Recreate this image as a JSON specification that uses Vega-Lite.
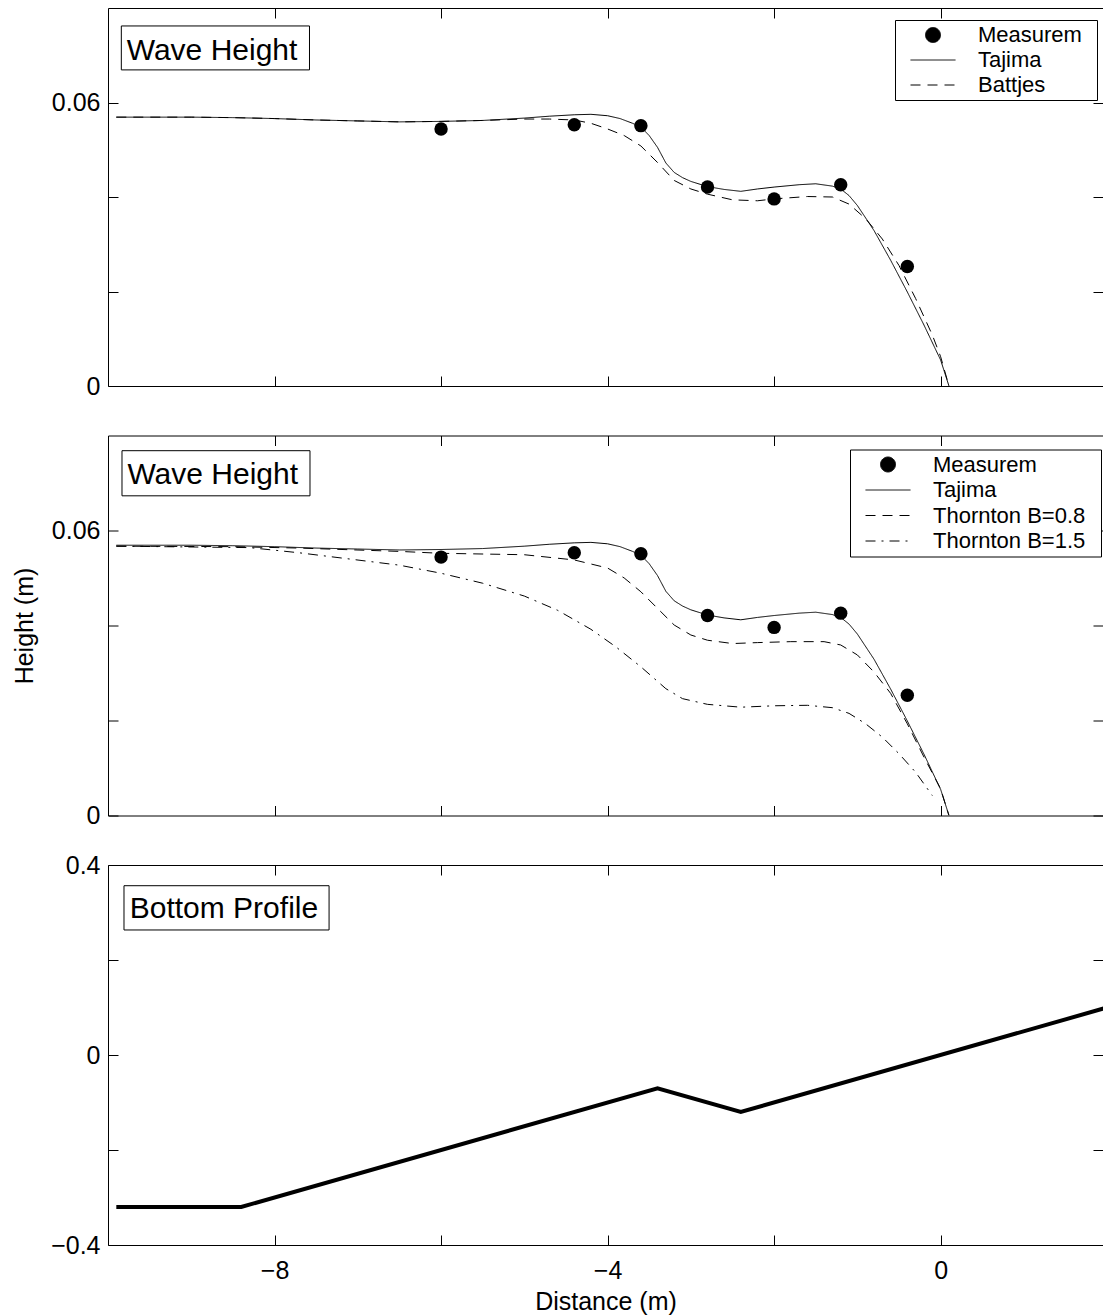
{
  "$schema": "https://vega.github.io/schema/vega-lite/v6.json",
  "padding": {"left": 11, "top": 7, "right": 0, "bottom": 0},
  "bounds": "flush",
  "background": "white",
  "config": {
    "view": {"stroke": "black", "strokeWidth": 1},
    "font": "Liberation Sans",
    "axis": {"domain": false, "grid": false, "tickColor": "black", "tickSize": -10, "tickWidth": 1, "labelFont": "Liberation Sans", "labelFontSize": 25, "labelColor": "black", "labelFlush": false, "labelOverlap": false, "titleFont": "Liberation Sans", "titleFontSize": 25, "titleColor": "black", "titleFontWeight": "normal"},
    "axisBottom": {"labelPadding": 23},
    "axisLeft": {"labelPadding": 18}
  },
  "datasets": {
    "meas": [
      {"x": -6.0, "h": 0.0544, "series": "Measurem"},
      {"x": -4.4, "h": 0.0553, "series": "Measurem"},
      {"x": -3.6, "h": 0.0551, "series": "Measurem"},
      {"x": -2.8, "h": 0.0421, "series": "Measurem"},
      {"x": -2.0, "h": 0.0396, "series": "Measurem"},
      {"x": -1.2, "h": 0.0426, "series": "Measurem"},
      {"x": -0.4, "h": 0.0253, "series": "Measurem"}
    ],
    "top": [
      {"x": -9.9, "h": 0.0569, "series": "Tajima"}, {"x": -9.0, "h": 0.0569, "series": "Tajima"}, {"x": -8.5, "h": 0.0568, "series": "Tajima"}, {"x": -8.0, "h": 0.0566, "series": "Tajima"}, {"x": -7.5, "h": 0.0563, "series": "Tajima"}, {"x": -7.0, "h": 0.0561, "series": "Tajima"}, {"x": -6.5, "h": 0.0559, "series": "Tajima"}, {"x": -6.0, "h": 0.056, "series": "Tajima"}, {"x": -5.5, "h": 0.0562, "series": "Tajima"}, {"x": -5.0, "h": 0.0567, "series": "Tajima"}, {"x": -4.7, "h": 0.0571, "series": "Tajima"}, {"x": -4.4, "h": 0.0574, "series": "Tajima"}, {"x": -4.2, "h": 0.0575, "series": "Tajima"}, {"x": -4.0, "h": 0.0572, "series": "Tajima"}, {"x": -3.85, "h": 0.0566, "series": "Tajima"}, {"x": -3.7, "h": 0.0556, "series": "Tajima"}, {"x": -3.6, "h": 0.0548, "series": "Tajima"}, {"x": -3.5, "h": 0.053, "series": "Tajima"}, {"x": -3.4, "h": 0.0505, "series": "Tajima"}, {"x": -3.3, "h": 0.0472, "series": "Tajima"}, {"x": -3.2, "h": 0.0452, "series": "Tajima"}, {"x": -3.1, "h": 0.0441, "series": "Tajima"}, {"x": -3.0, "h": 0.0433, "series": "Tajima"}, {"x": -2.8, "h": 0.0422, "series": "Tajima"}, {"x": -2.6, "h": 0.0416, "series": "Tajima"}, {"x": -2.4, "h": 0.0412, "series": "Tajima"}, {"x": -2.2, "h": 0.0417, "series": "Tajima"}, {"x": -2.0, "h": 0.0421, "series": "Tajima"}, {"x": -1.7, "h": 0.0426, "series": "Tajima"}, {"x": -1.5, "h": 0.0428, "series": "Tajima"}, {"x": -1.3, "h": 0.0423, "series": "Tajima"}, {"x": -1.2, "h": 0.0417, "series": "Tajima"}, {"x": -1.1, "h": 0.0403, "series": "Tajima"}, {"x": -1.0, "h": 0.0382, "series": "Tajima"}, {"x": -0.8, "h": 0.0329, "series": "Tajima"}, {"x": -0.6, "h": 0.0266, "series": "Tajima"}, {"x": -0.4, "h": 0.0199, "series": "Tajima"}, {"x": -0.2, "h": 0.0129, "series": "Tajima"}, {"x": 0.0, "h": 0.0055, "series": "Tajima"}, {"x": 0.1, "h": 0.0, "series": "Tajima"},
      {"x": -9.9, "h": 0.0569, "series": "Battjes"}, {"x": -9.0, "h": 0.0569, "series": "Battjes"}, {"x": -8.5, "h": 0.0568, "series": "Battjes"}, {"x": -8.0, "h": 0.0566, "series": "Battjes"}, {"x": -7.5, "h": 0.0563, "series": "Battjes"}, {"x": -7.0, "h": 0.0561, "series": "Battjes"}, {"x": -6.5, "h": 0.0559, "series": "Battjes"}, {"x": -6.0, "h": 0.056, "series": "Battjes"}, {"x": -5.5, "h": 0.0562, "series": "Battjes"}, {"x": -5.0, "h": 0.0565, "series": "Battjes"}, {"x": -4.7, "h": 0.0565, "series": "Battjes"}, {"x": -4.4, "h": 0.0563, "series": "Battjes"}, {"x": -4.2, "h": 0.0556, "series": "Battjes"}, {"x": -4.0, "h": 0.0544, "series": "Battjes"}, {"x": -3.8, "h": 0.053, "series": "Battjes"}, {"x": -3.6, "h": 0.0508, "series": "Battjes"}, {"x": -3.4, "h": 0.0473, "series": "Battjes"}, {"x": -3.2, "h": 0.0435, "series": "Battjes"}, {"x": -3.0, "h": 0.0417, "series": "Battjes"}, {"x": -2.8, "h": 0.0406, "series": "Battjes"}, {"x": -2.5, "h": 0.0394, "series": "Battjes"}, {"x": -2.2, "h": 0.0392, "series": "Battjes"}, {"x": -2.0, "h": 0.0396, "series": "Battjes"}, {"x": -1.6, "h": 0.0401, "series": "Battjes"}, {"x": -1.3, "h": 0.04, "series": "Battjes"}, {"x": -1.1, "h": 0.0385, "series": "Battjes"}, {"x": -0.9, "h": 0.0354, "series": "Battjes"}, {"x": -0.7, "h": 0.0311, "series": "Battjes"}, {"x": -0.5, "h": 0.0255, "series": "Battjes"}, {"x": -0.3, "h": 0.0185, "series": "Battjes"}, {"x": -0.1, "h": 0.0108, "series": "Battjes"}, {"x": 0.0, "h": 0.0062, "series": "Battjes"}, {"x": 0.1, "h": 0.0, "series": "Battjes"}
    ],
    "mid": [
      {"x": -9.9, "h": 0.0569, "series": "Tajima"}, {"x": -9.0, "h": 0.0569, "series": "Tajima"}, {"x": -8.5, "h": 0.0568, "series": "Tajima"}, {"x": -8.0, "h": 0.0566, "series": "Tajima"}, {"x": -7.5, "h": 0.0563, "series": "Tajima"}, {"x": -7.0, "h": 0.0561, "series": "Tajima"}, {"x": -6.5, "h": 0.0559, "series": "Tajima"}, {"x": -6.0, "h": 0.056, "series": "Tajima"}, {"x": -5.5, "h": 0.0562, "series": "Tajima"}, {"x": -5.0, "h": 0.0567, "series": "Tajima"}, {"x": -4.7, "h": 0.0571, "series": "Tajima"}, {"x": -4.4, "h": 0.0574, "series": "Tajima"}, {"x": -4.2, "h": 0.0575, "series": "Tajima"}, {"x": -4.0, "h": 0.0572, "series": "Tajima"}, {"x": -3.85, "h": 0.0566, "series": "Tajima"}, {"x": -3.7, "h": 0.0556, "series": "Tajima"}, {"x": -3.6, "h": 0.0548, "series": "Tajima"}, {"x": -3.5, "h": 0.053, "series": "Tajima"}, {"x": -3.4, "h": 0.0505, "series": "Tajima"}, {"x": -3.3, "h": 0.0472, "series": "Tajima"}, {"x": -3.2, "h": 0.0452, "series": "Tajima"}, {"x": -3.1, "h": 0.0441, "series": "Tajima"}, {"x": -3.0, "h": 0.0433, "series": "Tajima"}, {"x": -2.8, "h": 0.0422, "series": "Tajima"}, {"x": -2.6, "h": 0.0416, "series": "Tajima"}, {"x": -2.4, "h": 0.0412, "series": "Tajima"}, {"x": -2.2, "h": 0.0417, "series": "Tajima"}, {"x": -2.0, "h": 0.0421, "series": "Tajima"}, {"x": -1.7, "h": 0.0426, "series": "Tajima"}, {"x": -1.5, "h": 0.0428, "series": "Tajima"}, {"x": -1.3, "h": 0.0423, "series": "Tajima"}, {"x": -1.2, "h": 0.0417, "series": "Tajima"}, {"x": -1.1, "h": 0.0403, "series": "Tajima"}, {"x": -1.0, "h": 0.0382, "series": "Tajima"}, {"x": -0.8, "h": 0.0329, "series": "Tajima"}, {"x": -0.6, "h": 0.0266, "series": "Tajima"}, {"x": -0.4, "h": 0.0199, "series": "Tajima"}, {"x": -0.2, "h": 0.0129, "series": "Tajima"}, {"x": 0.0, "h": 0.0055, "series": "Tajima"}, {"x": 0.1, "h": 0.0, "series": "Tajima"},
      {"x": -9.9, "h": 0.0567, "series": "Thornton B=0.8"}, {"x": -8.5, "h": 0.0566, "series": "Thornton B=0.8"}, {"x": -7.7, "h": 0.0563, "series": "Thornton B=0.8"}, {"x": -6.5, "h": 0.0556, "series": "Thornton B=0.8"}, {"x": -6.0, "h": 0.0552, "series": "Thornton B=0.8"}, {"x": -5.0, "h": 0.0549, "series": "Thornton B=0.8"}, {"x": -4.4, "h": 0.0538, "series": "Thornton B=0.8"}, {"x": -4.0, "h": 0.0521, "series": "Thornton B=0.8"}, {"x": -3.8, "h": 0.05, "series": "Thornton B=0.8"}, {"x": -3.6, "h": 0.0471, "series": "Thornton B=0.8"}, {"x": -3.4, "h": 0.0436, "series": "Thornton B=0.8"}, {"x": -3.2, "h": 0.0401, "series": "Thornton B=0.8"}, {"x": -3.0, "h": 0.038, "series": "Thornton B=0.8"}, {"x": -2.8, "h": 0.0369, "series": "Thornton B=0.8"}, {"x": -2.5, "h": 0.0362, "series": "Thornton B=0.8"}, {"x": -2.2, "h": 0.0364, "series": "Thornton B=0.8"}, {"x": -1.8, "h": 0.0366, "series": "Thornton B=0.8"}, {"x": -1.4, "h": 0.0366, "series": "Thornton B=0.8"}, {"x": -1.2, "h": 0.0359, "series": "Thornton B=0.8"}, {"x": -1.0, "h": 0.0338, "series": "Thornton B=0.8"}, {"x": -0.8, "h": 0.0302, "series": "Thornton B=0.8"}, {"x": -0.6, "h": 0.0257, "series": "Thornton B=0.8"}, {"x": -0.4, "h": 0.0193, "series": "Thornton B=0.8"}, {"x": -0.2, "h": 0.0123, "series": "Thornton B=0.8"}, {"x": 0.0, "h": 0.0056, "series": "Thornton B=0.8"}, {"x": 0.1, "h": 0.0, "series": "Thornton B=0.8"},
      {"x": -9.9, "h": 0.0567, "series": "Thornton B=1.5"}, {"x": -8.3, "h": 0.0564, "series": "Thornton B=1.5"}, {"x": -7.7, "h": 0.0553, "series": "Thornton B=1.5"}, {"x": -6.5, "h": 0.0527, "series": "Thornton B=1.5"}, {"x": -6.0, "h": 0.051, "series": "Thornton B=1.5"}, {"x": -5.5, "h": 0.0489, "series": "Thornton B=1.5"}, {"x": -5.0, "h": 0.0462, "series": "Thornton B=1.5"}, {"x": -4.6, "h": 0.0432, "series": "Thornton B=1.5"}, {"x": -4.2, "h": 0.0392, "series": "Thornton B=1.5"}, {"x": -3.9, "h": 0.0355, "series": "Thornton B=1.5"}, {"x": -3.6, "h": 0.0313, "series": "Thornton B=1.5"}, {"x": -3.3, "h": 0.0267, "series": "Thornton B=1.5"}, {"x": -3.1, "h": 0.0246, "series": "Thornton B=1.5"}, {"x": -2.8, "h": 0.0234, "series": "Thornton B=1.5"}, {"x": -2.4, "h": 0.0228, "series": "Thornton B=1.5"}, {"x": -2.0, "h": 0.0231, "series": "Thornton B=1.5"}, {"x": -1.6, "h": 0.0232, "series": "Thornton B=1.5"}, {"x": -1.3, "h": 0.0227, "series": "Thornton B=1.5"}, {"x": -1.1, "h": 0.0215, "series": "Thornton B=1.5"}, {"x": -0.9, "h": 0.0193, "series": "Thornton B=1.5"}, {"x": -0.7, "h": 0.0165, "series": "Thornton B=1.5"}, {"x": -0.5, "h": 0.013, "series": "Thornton B=1.5"}, {"x": -0.3, "h": 0.0091, "series": "Thornton B=1.5"}, {"x": -0.1, "h": 0.0042, "series": "Thornton B=1.5"}
    ],
    "profile": [
      {"x": -9.9, "z": -0.32}, {"x": -8.4, "z": -0.32}, {"x": -3.4, "z": -0.07}, {"x": -2.4, "z": -0.12}, {"x": 2.0, "z": 0.1}
    ]
  },
  "spacing": 49.5,
  "resolve": {"scale": {"shape": "independent", "strokeDash": "independent"}, "legend": {"shape": "independent", "strokeDash": "independent"}},
  "vconcat": [
    {
      "width": 995, "height": 378,
      "resolve": {"axis": {"x": "independent", "y": "independent"}},
      "layer": [
        {
          "data": {"name": "top"},
          "mark": {"type": "line", "color": "black", "strokeWidth": 1, "clip": true},
          "encoding": {
            "x": {"field": "x", "type": "quantitative", "scale": {"domain": [-10, 1.95], "nice": false, "zero": false}, "axis": {"orient": "bottom", "values": [-8, -6, -4, -2, 0], "labels": false, "title": null}},
            "y": {"field": "h", "type": "quantitative", "scale": {"domain": [0, 0.08], "nice": false, "zero": false}, "axis": {"orient": "left", "values": [0, 0.02, 0.04, 0.06], "labelExpr": "datum.value == 0 ? '0' : (abs(datum.value - 0.06) < 0.000001 ? '0.06' : '')", "title": null}},
            "strokeDash": {"field": "series", "type": "nominal", "scale": {"domain": ["Measurem", "Tajima", "Battjes"], "range": [[1, 0], [1, 0], [10, 7]]},
              "legend": {"title": null, "orient": "none", "legendX": 787, "legendY": 12, "strokeColor": "black", "fillColor": "white", "padding": 4, "cornerRadius": 0, "labelFont": "Liberation Sans", "labelFontSize": 22, "labelColor": "black", "labelLimit": 400, "labelOffset": 34, "symbolOffset": 23, "rowPadding": 3, "symbolSize": 225, "symbolStrokeColor": "black", "symbolStrokeWidth": 1, "labelExpr": "datum.label + '\u2002\u200b'",
                "encode": {"symbols": {"update": {"fill": {"signal": "datum.value === 'Measurem' ? 'black' : 'transparent'"}, "stroke": {"value": "black"}, "opacity": {"value": 1}, "strokeDash": {"signal": "datum.value === 'Battjes' ? [15, 15] : [1, 0]"}}}}}}
          }
        },
        {
          "data": {"name": "meas"},
          "mark": {"type": "point", "filled": true, "color": "black", "size": 180, "opacity": 1},
          "encoding": {
            "x": {"field": "x", "type": "quantitative", "axis": null},
            "y": {"field": "h", "type": "quantitative", "axis": null},
            "shape": {"field": "series", "type": "nominal", "scale": {"domain": ["Measurem", "Tajima", "Battjes"], "range": ["circle", "M-3,0H3", "M-3,0H3"]},
              "legend": {"title": null, "orient": "none", "legendX": 787, "legendY": 12, "strokeColor": "black", "fillColor": "white", "padding": 4, "cornerRadius": 0, "labelFont": "Liberation Sans", "labelFontSize": 22, "labelColor": "black", "labelLimit": 400, "labelOffset": 34, "symbolOffset": 23, "rowPadding": 3, "symbolSize": 225, "symbolStrokeColor": "black", "symbolStrokeWidth": 1, "labelExpr": "datum.label + '\u2002\u200b'",
                "encode": {"symbols": {"update": {"fill": {"signal": "datum.value === 'Measurem' ? 'black' : 'transparent'"}, "stroke": {"value": "black"}, "opacity": {"value": 1}, "strokeDash": {"signal": "datum.value === 'Battjes' ? [15, 15] : [1, 0]"}}}}}}
          }
        },
        {
          "data": {"values": [{}]},
          "mark": {"type": "rect", "fill": "white", "stroke": "black", "strokeWidth": 1},
          "encoding": {
            "x": {"datum": -9.84, "type": "quantitative", "axis": {"orient": "top", "values": [-8, -6, -4, -2, 0], "labels": false, "title": null}},
            "x2": {"datum": -7.58},
            "y": {"datum": 0.0762, "type": "quantitative", "axis": {"orient": "right", "values": [0, 0.02, 0.04, 0.06], "labels": false, "title": null}},
            "y2": {"datum": 0.0669}
          }
        },
        {
          "data": {"values": [{"label": "Wave Height"}]},
          "mark": {"type": "text", "align": "left", "baseline": "alphabetic", "font": "Liberation Sans", "fontSize": 30, "color": "black"},
          "encoding": {
            "x": {"datum": -9.775, "type": "quantitative", "axis": null},
            "y": {"datum": 0.069, "type": "quantitative", "axis": null},
            "text": {"field": "label"}
          }
        }
      ]
    },
    {
      "width": 995, "height": 380,
      "resolve": {"axis": {"x": "independent", "y": "independent"}},
      "layer": [
        {
          "data": {"name": "mid"},
          "mark": {"type": "line", "color": "black", "strokeWidth": 1, "clip": true},
          "encoding": {
            "x": {"field": "x", "type": "quantitative", "scale": {"domain": [-10, 1.95], "nice": false, "zero": false}, "axis": {"orient": "bottom", "values": [-8, -6, -4, -2, 0], "labels": false, "title": null}},
            "y": {"field": "h", "type": "quantitative", "scale": {"domain": [0, 0.08], "nice": false, "zero": false}, "axis": {"orient": "left", "values": [0, 0.02, 0.04, 0.06], "labelExpr": "datum.value == 0 ? '0' : (abs(datum.value - 0.06) < 0.000001 ? '0.06' : '')", "title": "Height (m)", "titlePadding": 14}},
            "strokeDash": {"field": "series", "type": "nominal", "scale": {"domain": ["Measurem", "Tajima", "Thornton B=0.8", "Thornton B=1.5"], "range": [[1, 0], [1, 0], [10, 7], [10, 6, 2, 6]]},
              "legend": {"title": null, "orient": "none", "legendX": 742, "legendY": 14, "strokeColor": "black", "fillColor": "white", "padding": 4, "cornerRadius": 0, "labelFont": "Liberation Sans", "labelFontSize": 22, "labelColor": "black", "labelLimit": 400, "labelOffset": 34, "symbolOffset": 23, "rowPadding": 3.5, "symbolSize": 225, "symbolStrokeColor": "black", "symbolStrokeWidth": 1, "labelExpr": "datum.label + '\u2002\u200b'",
                "encode": {"symbols": {"update": {"fill": {"signal": "datum.value === 'Measurem' ? 'black' : 'transparent'"}, "stroke": {"value": "black"}, "opacity": {"value": 1}, "strokeDash": {"signal": "datum.value === 'Thornton B=0.8' ? [15, 15] : (datum.value === 'Thornton B=1.5' ? [2, 12, 15, 5, 2, 6, 2, 20] : [1, 0])"}}}}}}
          }
        },
        {
          "data": {"name": "meas"},
          "mark": {"type": "point", "filled": true, "color": "black", "size": 180, "opacity": 1},
          "encoding": {
            "x": {"field": "x", "type": "quantitative", "axis": null},
            "y": {"field": "h", "type": "quantitative", "axis": null},
            "shape": {"field": "series", "type": "nominal", "scale": {"domain": ["Measurem", "Tajima", "Thornton B=0.8", "Thornton B=1.5"], "range": ["circle", "M-3,0H3", "M-3,0H3", "M-3,0H3"]},
              "legend": {"title": null, "orient": "none", "legendX": 742, "legendY": 14, "strokeColor": "black", "fillColor": "white", "padding": 4, "cornerRadius": 0, "labelFont": "Liberation Sans", "labelFontSize": 22, "labelColor": "black", "labelLimit": 400, "labelOffset": 34, "symbolOffset": 23, "rowPadding": 3.5, "symbolSize": 225, "symbolStrokeColor": "black", "symbolStrokeWidth": 1, "labelExpr": "datum.label + '\u2002\u200b'",
                "encode": {"symbols": {"update": {"fill": {"signal": "datum.value === 'Measurem' ? 'black' : 'transparent'"}, "stroke": {"value": "black"}, "opacity": {"value": 1}, "strokeDash": {"signal": "datum.value === 'Thornton B=0.8' ? [15, 15] : (datum.value === 'Thornton B=1.5' ? [2, 12, 15, 5, 2, 6, 2, 20] : [1, 0])"}}}}}}
          }
        },
        {
          "data": {"values": [{}]},
          "mark": {"type": "rect", "fill": "white", "stroke": "black", "strokeWidth": 1},
          "encoding": {
            "x": {"datum": -9.832, "type": "quantitative", "axis": {"orient": "top", "values": [-8, -6, -4, -2, 0], "labels": false, "title": null}},
            "x2": {"datum": -7.574},
            "y": {"datum": 0.0768, "type": "quantitative", "axis": {"orient": "right", "values": [0, 0.02, 0.04, 0.06], "labels": false, "title": null}},
            "y2": {"datum": 0.0673}
          }
        },
        {
          "data": {"values": [{"label": "Wave Height"}]},
          "mark": {"type": "text", "align": "left", "baseline": "alphabetic", "font": "Liberation Sans", "fontSize": 30, "color": "black"},
          "encoding": {
            "x": {"datum": -9.767, "type": "quantitative", "axis": null},
            "y": {"datum": 0.0698, "type": "quantitative", "axis": null},
            "text": {"field": "label"}
          }
        }
      ]
    },
    {
      "width": 995, "height": 380,
      "resolve": {"axis": {"x": "independent", "y": "independent"}},
      "layer": [
        {
          "data": {"name": "profile"},
          "mark": {"type": "line", "color": "black", "strokeWidth": 4, "clip": true},
          "encoding": {
            "x": {"field": "x", "type": "quantitative", "scale": {"domain": [-10, 1.95], "nice": false, "zero": false}, "axis": {"orient": "bottom", "values": [-8, -6, -4, -2, 0], "labelExpr": "datum.value == 0 ? '0' : (datum.value == -4 ? '−4' : (datum.value == -8 ? '−8' : ''))", "title": "Distance (m)", "titlePadding": 6}},
            "y": {"field": "z", "type": "quantitative", "scale": {"domain": [-0.4, 0.4], "nice": false, "zero": false}, "axis": {"orient": "left", "values": [-0.4, -0.2, 0, 0.2, 0.4], "labelExpr": "datum.value == 0 ? '0' : (datum.value > 0.3 ? '0.4' : (datum.value < -0.3 ? '−0.4' : ''))", "title": null}}
          }
        },
        {
          "data": {"values": [{}]},
          "mark": {"type": "rect", "fill": "white", "stroke": "black", "strokeWidth": 1},
          "encoding": {
            "x": {"datum": -9.808, "type": "quantitative", "axis": {"orient": "top", "values": [-8, -6, -4, -2, 0], "labels": false, "title": null}},
            "x2": {"datum": -7.345},
            "y": {"datum": 0.3564, "type": "quantitative", "axis": {"orient": "right", "values": [-0.4, -0.2, 0, 0.2, 0.4], "labels": false, "title": null}},
            "y2": {"datum": 0.2632}
          }
        },
        {
          "data": {"values": [{"label": "Bottom Profile"}]},
          "mark": {"type": "text", "align": "left", "baseline": "alphabetic", "font": "Liberation Sans", "fontSize": 30, "color": "black"},
          "encoding": {
            "x": {"datum": -9.739, "type": "quantitative", "axis": null},
            "y": {"datum": 0.2878, "type": "quantitative", "axis": null},
            "text": {"field": "label"}
          }
        }
      ]
    }
  ]
}
